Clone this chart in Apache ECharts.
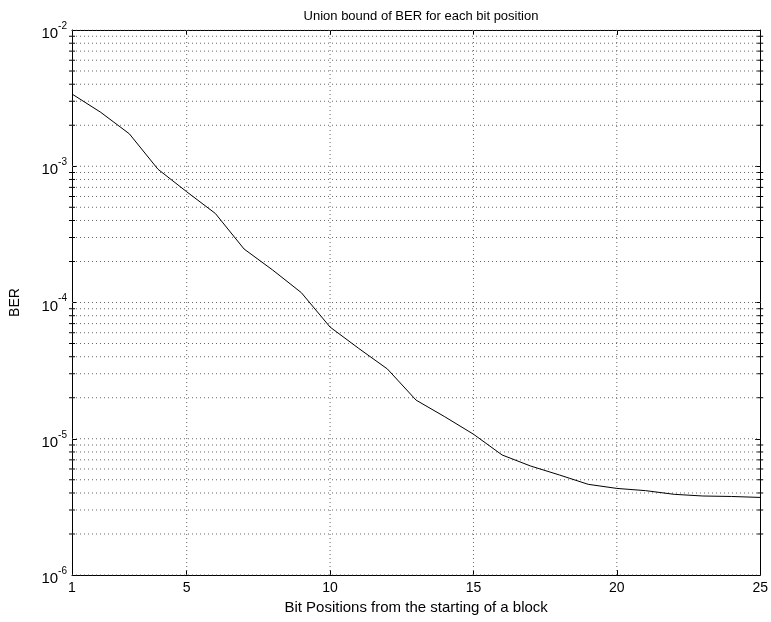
<!DOCTYPE html>
<html><head><meta charset="utf-8">
<script src="https://cdn.jsdelivr.net/npm/echarts@6/dist/echarts.min.js"></script>
<style>html,body{margin:0;padding:0;background:#fff}#c{width:771px;height:622px}</style>
</head><body><div id="c"></div>
<script>
const positions = [1,2,3,4,5,6,7,8,9,10,11,12,13,14,15,16,17,18,19,20,21,22,23,24,25];
const ber = [3.39e-3,2.49e-3,1.73e-3,9.5e-4,6.5e-4,4.5e-4,2.47e-4,1.73e-4,1.18e-4,6.6e-5,4.6e-5,3.25e-5,1.92e-5,1.45e-5,1.08e-5,7.6e-6,6.3e-6,5.42e-6,4.63e-6,4.32e-6,4.16e-6,3.91e-6,3.8e-6,3.77e-6,3.71e-6];
const xTicks = [1,5,10,15,20,25];
const xGrid = [5,10,15,20];
const yDecades = [-6,-5,-4,-3];
const yMinorMult = [2,3,4,5,6,7,8,9];

const yGrid = [];
for (const d of yDecades) {
  yGrid.push(Math.pow(10, d));
  for (const m of yMinorMult) yGrid.push(m * Math.pow(10, d));
}
yGrid.push(1e-2);

const FONT = 'Liberation Sans, Arial, sans-serif';
const chart = echarts.init(document.getElementById('c'));
const dotted = {color: '#666', width: 1, type: [1, 3]};

const yLabelFmt = v => {
  const e = Math.round(Math.log10(v));
  return '{b|10}{s|' + e + '}';
};

const gridSeries = [];
yGrid.forEach(v => gridSeries.push({
  type: 'line', xAxisIndex: 0, yAxisIndex: 0, silent: true,
  data: [[1, v], [25, v]], symbol: 'none', lineStyle: dotted, z: 1
}));
xGrid.forEach(v => gridSeries.push({
  type: 'line', xAxisIndex: 0, yAxisIndex: 0, silent: true,
  data: [[v, 1e-6], [v, 1e-2]], symbol: 'none', lineStyle: dotted, z: 1
}));
const minorTicks = yGrid.filter(v => {
  const l = Math.log10(v);
  return Math.abs(l - Math.round(l)) > 1e-9;
});

chart.setOption({
  animation: false,
  title: {
    text: 'Union bound of BER for each bit position',
    left: 416, top: 5, textAlign: 'center',
    textStyle: {fontFamily: FONT, fontSize: 13, fontWeight: 'normal', color: '#000'}
  },
  grid: {left: 70, right: 9, top: 30, bottom: 47, containLabel: false},
  xAxis: [{
    type: 'value', min: 1, max: 25, position: 'bottom',
    name: 'Bit Positions from the starting of a block', nameLocation: 'middle', nameGap: 24,
    nameTextStyle: {fontFamily: FONT, fontSize: 15, color: '#000'},
    axisLine: {show: true, lineStyle: {color: '#000', width: 1}},
    axisTick: {show: true, inside: true, length: 5, customValues: xTicks, lineStyle: {color: '#000'}},
    axisLabel: {customValues: xTicks, fontFamily: FONT, fontSize: 14, color: '#000', margin: 6},
    splitLine: {show: false}
  }, {
    type: 'value', min: 1, max: 25, position: 'top',
    axisLine: {show: true, onZero: false, lineStyle: {color: '#000', width: 1}},
    axisTick: {show: true, inside: true, length: 5, customValues: xTicks, lineStyle: {color: '#000'}},
    axisLabel: {show: false}, splitLine: {show: false}
  }],
  yAxis: [{
    type: 'log', logBase: 10, min: 1e-6, max: 1e-2, position: 'left',
    name: 'BER', nameLocation: 'middle', nameGap: 50, nameRotate: 90,
    nameTextStyle: {fontFamily: FONT, fontSize: 14, color: '#000'},
    axisLine: {show: true, lineStyle: {color: '#000', width: 1}},
    axisTick: {show: true, inside: true, length: 5, lineStyle: {color: '#000'}},
    axisLabel: {
      formatter: yLabelFmt, margin: 5, color: '#000',
      rich: {
        b: {fontFamily: FONT, fontSize: 15, color: '#000', padding: [8, 0, 0, 0]},
        s: {fontFamily: FONT, fontSize: 10, color: '#000', padding: [0, 0, 8, 0]}
      }
    },
    splitLine: {show: false}
  }, {
    type: 'log', logBase: 10, min: 1e-6, max: 1e-2, position: 'right',
    axisLine: {show: true, lineStyle: {color: '#000', width: 1}},
    axisTick: {show: true, inside: true, length: 5, lineStyle: {color: '#000'}},
    axisLabel: {show: false}, splitLine: {show: false}
  }],
  series: gridSeries.concat([{
    type: 'line', xAxisIndex: 0, yAxisIndex: 0, silent: true,
    data: minorTicks.map(v => [1, v]), symbol: 'rect', symbolSize: [6, 1],
    showSymbol: true, lineStyle: {width: 0, opacity: 0}, itemStyle: {color: '#000'}, z: 3
  }, {
    type: 'line', xAxisIndex: 0, yAxisIndex: 0, silent: true,
    data: minorTicks.map(v => [25, v]), symbol: 'rect', symbolSize: [6, 1],
    showSymbol: true, lineStyle: {width: 0, opacity: 0}, itemStyle: {color: '#000'}, z: 3
  }, {
    type: 'line', xAxisIndex: 0, yAxisIndex: 0,
    data: positions.map((p, i) => [p, ber[i]]),
    showSymbol: false, symbol: 'none',
    lineStyle: {color: '#000', width: 1},
    z: 5
  }])
});
</script></body></html>
